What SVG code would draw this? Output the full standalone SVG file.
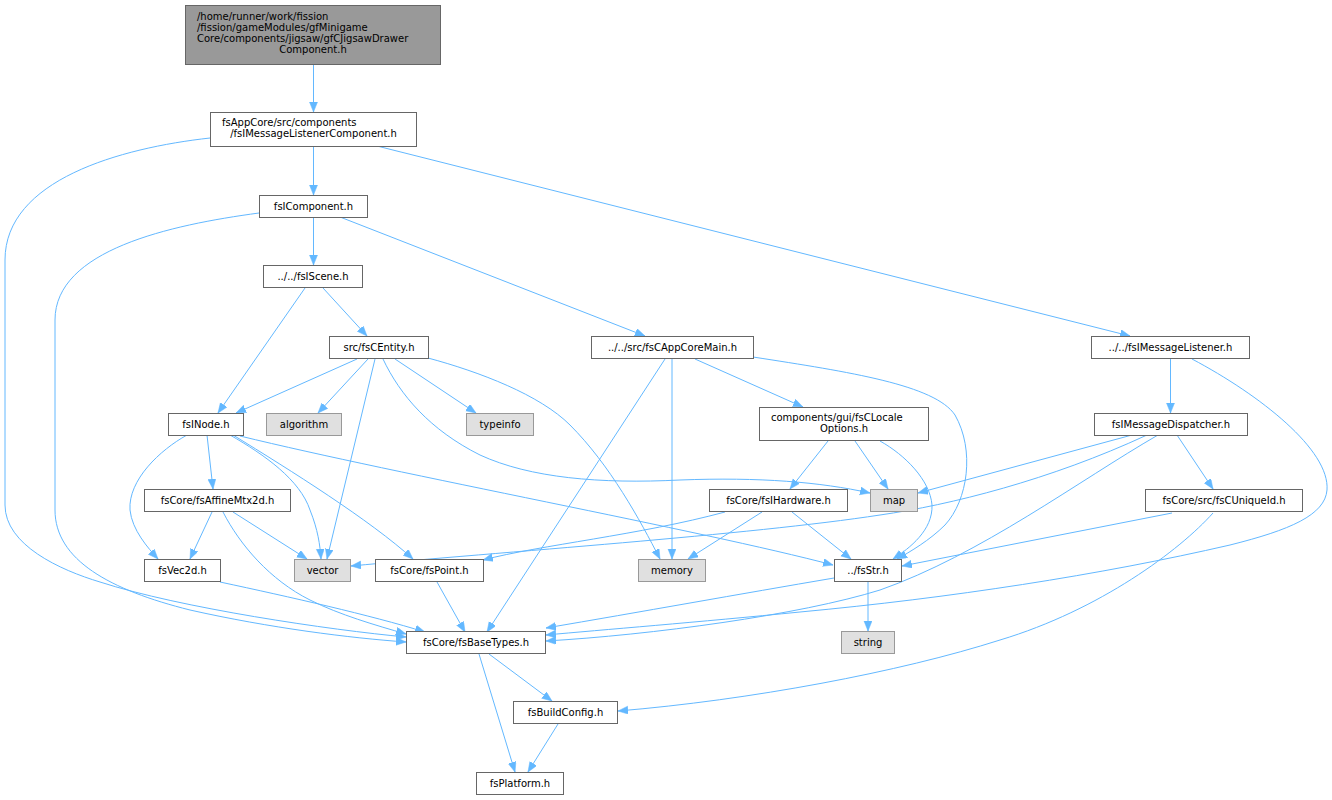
<svg xmlns="http://www.w3.org/2000/svg" width="1332" height="800" viewBox="0 0 1332 800">
<style>
.n rect{fill:#ffffff;stroke:#666666;stroke-width:1}
.g rect{fill:#e0e0e0;stroke:#999999;stroke-width:1}
.r rect{fill:#999999;stroke:#666666;stroke-width:1}
text{font-family:"DejaVu Sans","Liberation Sans",sans-serif;font-size:10px;fill:#000000}
.c{text-anchor:middle}
.s{text-anchor:start}
#edges path{fill:none;stroke:#63b8ff;stroke-width:1;marker-end:url(#ah)}
</style>
<defs>
<marker id="ah" markerUnits="userSpaceOnUse" markerWidth="11" markerHeight="9" refX="10" refY="4" orient="auto">
<path d="M0,0 L10,4 L0,8 z" fill="#63b8ff" stroke="#63b8ff" stroke-width="0.5"/>
</marker>
</defs>
<rect width="1332" height="800" fill="#ffffff"/>
<g id="edges">
<path d="M313.5,64.5 L313.5,112"/>
<path d="M313.5,147 L313.5,195"/>
<path d="M210,138 C120,148 5,180 5,260 L5,505 C5,545 60,570 100,582 C180,608 330,630 406,637"/>
<path d="M377,146 L1130,336"/>
<path d="M313.5,218 L313.5,265"/>
<path d="M259,213 C170,225 55,250 55,320 L55,510 C55,560 110,590 190,610 C270,628 350,638 406,642"/>
<path d="M340,217 L645,336"/>
<path d="M305,288 L218,413"/>
<path d="M323,288 L367,336"/>
<path d="M357,359 L236,413"/>
<path d="M368,359 L318,413"/>
<path d="M375,359 L327,559"/>
<path d="M383,359 C400,395 430,430 480,455 C530,478 600,484 680,480 C760,477 820,482 870,493"/>
<path d="M395,359 L476,413"/>
<path d="M428,358 C480,372 540,395 570,425 C610,465 640,520 660,559"/>
<path d="M665,359 L487,632"/>
<path d="M672,359 L672,559"/>
<path d="M695,359 L803,407"/>
<path d="M753,357 C850,372 935,385 955,415 C975,450 968,500 945,525 C930,540 910,552 897,559"/>
<path d="M828,441 L790,489"/>
<path d="M855,441 L888,489"/>
<path d="M880,441 C905,455 930,480 932,505 C933,530 910,548 893,559"/>
<path d="M725,512 C640,535 540,545 483,560"/>
<path d="M762,512 L688,559"/>
<path d="M792,512 L851,559"/>
<path d="M207,435 L213,489"/>
<path d="M187,435 C160,450 128,480 130,510 C132,530 148,548 158,559"/>
<path d="M230,435 C265,455 300,480 310,510 C318,530 320,545 321,559"/>
<path d="M233,435 C290,470 370,520 413,559"/>
<path d="M240,436 C400,475 700,530 833,565"/>
<path d="M212,512 L190,559"/>
<path d="M233,512 L307,559"/>
<path d="M223,512 C240,545 270,580 310,600 C340,615 375,625 406,634"/>
<path d="M220,582 C290,597 370,615 425,632"/>
<path d="M437,582 L465,632"/>
<path d="M834,578 C740,594 640,612 546,628"/>
<path d="M1170.5,359 L1170.5,413"/>
<path d="M1192,359 C1260,395 1330,450 1327,490 C1325,515 1290,530 1230,545 C1100,575 950,598 800,612 C700,622 600,630 546,635"/>
<path d="M1132,435 L918,493"/>
<path d="M1147,435 C1050,480 950,505 880,515 C750,535 500,552 351,566"/>
<path d="M1158,435 C1080,480 980,555 880,590 C800,615 650,635 546,641"/>
<path d="M1177,435 L1213,489"/>
<path d="M1172,513 L902,566"/>
<path d="M1213,513 C1180,550 1100,610 1000,640 C900,672 750,700 618,711"/>
<path d="M868,582 L868,631"/>
<path d="M489,654 L552,701"/>
<path d="M479,654 L515,772"/>
<path d="M558,724 L528,772"/>
</g>
<g id="n_top" class="r"><rect x="185.5" y="5.5" width="255" height="59"/>
<text class="s" x="197" y="20">/home/runner/work/fission</text>
<text class="s" x="197" y="31">/fission/gameModules/gfMinigame</text>
<text class="s" x="197" y="42">Core/components/jigsaw/gfCJigsawDrawer</text>
<text class="c" x="313" y="53">Component.h</text></g>
<g id="n_mlc" class="n"><rect x="210.5" y="112.5" width="206" height="34"/>
<text class="s" x="222" y="126">fsAppCore/src/components</text>
<text class="c" x="313.5" y="137">/fsIMessageListenerComponent.h</text></g>
<g id="n_icomp" class="n"><rect x="259.5" y="195.5" width="108" height="22"/><text class="c" x="313.5" y="210">fsIComponent.h</text></g>
<g id="n_iscene" class="n"><rect x="263.5" y="265.5" width="99" height="22"/><text class="c" x="313" y="280">../../fsIScene.h</text></g>
<g id="n_centity" class="n"><rect x="329.5" y="336.5" width="99" height="22"/><text class="c" x="379" y="351">src/fsCEntity.h</text></g>
<g id="n_inode" class="n"><rect x="168.5" y="413.5" width="75" height="22"/><text class="c" x="206" y="428">fsINode.h</text></g>
<g id="n_algorithm" class="g"><rect x="266.5" y="413.5" width="75" height="22"/><text class="c" x="304" y="428">algorithm</text></g>
<g id="n_typeinfo" class="g"><rect x="466.5" y="413.5" width="67" height="22"/><text class="c" x="500" y="428">typeinfo</text></g>
<g id="n_appcoremain" class="n"><rect x="591.5" y="336.5" width="162" height="22"/><text class="c" x="672.5" y="351">../../src/fsCAppCoreMain.h</text></g>
<g id="n_locale" class="n"><rect x="759.5" y="407.5" width="169" height="33"/>
<text class="s" x="771" y="421">components/gui/fsCLocale</text>
<text class="c" x="844" y="432">Options.h</text></g>
<g id="n_msglistener" class="n"><rect x="1091.5" y="336.5" width="158" height="22"/><text class="c" x="1170.5" y="351">../../fsIMessageListener.h</text></g>
<g id="n_msgdispatcher" class="n"><rect x="1094.5" y="413.5" width="153" height="22"/><text class="c" x="1171" y="428">fsIMessageDispatcher.h</text></g>
<g id="n_uniqueid" class="n"><rect x="1145.5" y="489.5" width="157" height="22"/><text class="c" x="1224" y="504">fsCore/src/fsCUniqueId.h</text></g>
<g id="n_affine" class="n"><rect x="144.5" y="489.5" width="146" height="22"/><text class="c" x="217.5" y="504">fsCore/fsAffineMtx2d.h</text></g>
<g id="n_vec2d" class="n"><rect x="144.5" y="559.5" width="76" height="22"/><text class="c" x="182.5" y="574">fsVec2d.h</text></g>
<g id="n_vector" class="g"><rect x="294.5" y="559.5" width="56" height="22"/><text class="c" x="322.5" y="574">vector</text></g>
<g id="n_point" class="n"><rect x="375.5" y="559.5" width="108" height="22"/><text class="c" x="429.5" y="574">fsCore/fsPoint.h</text></g>
<g id="n_basetypes" class="n"><rect x="406.5" y="631.5" width="139" height="22"/><text class="c" x="476" y="646">fsCore/fsBaseTypes.h</text></g>
<g id="n_ihardware" class="n"><rect x="709.5" y="489.5" width="138" height="22"/><text class="c" x="778.5" y="504">fsCore/fsIHardware.h</text></g>
<g id="n_map" class="g"><rect x="870.5" y="489.5" width="47" height="22"/><text class="c" x="894" y="504">map</text></g>
<g id="n_memory" class="g"><rect x="638.5" y="559.5" width="67" height="22"/><text class="c" x="672" y="574">memory</text></g>
<g id="n_fsstr" class="n"><rect x="834.5" y="559.5" width="67" height="22"/><text class="c" x="868" y="574">../fsStr.h</text></g>
<g id="n_string" class="g"><rect x="841.5" y="631.5" width="53" height="22"/><text class="c" x="868" y="646">string</text></g>
<g id="n_buildconfig" class="n"><rect x="513.5" y="701.5" width="104" height="22"/><text class="c" x="565.5" y="716">fsBuildConfig.h</text></g>
<g id="n_platform" class="n"><rect x="476.5" y="772.5" width="87" height="22"/><text class="c" x="520" y="787">fsPlatform.h</text></g>
</svg>
